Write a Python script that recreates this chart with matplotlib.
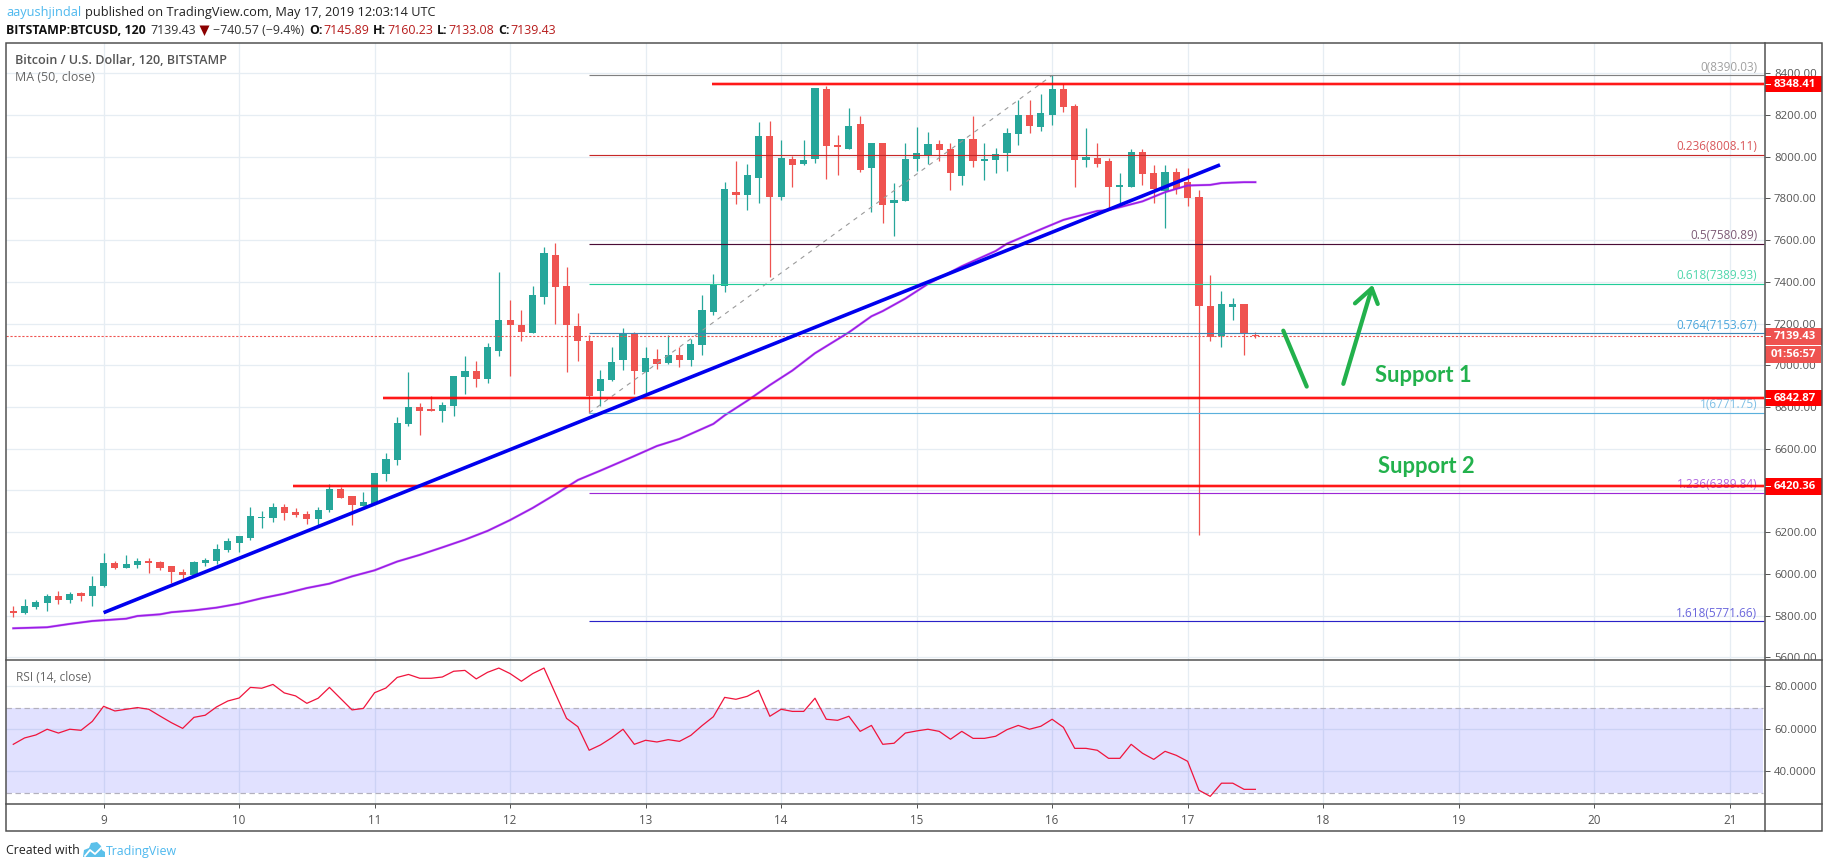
import numpy as np
import matplotlib
matplotlib.use("Agg")
import matplotlib.pyplot as plt
from matplotlib.patches import Rectangle, Polygon

plt.rcParams['font.family'] = ['Open Sans', 'DejaVu Sans']

W, H = 1828, 868
FIRST_DAY = 8 + 1 / 3
BARS_PER_DAY = 12

opens = [5822,5812,5841,5860,5894,5875,5908,5894,5942,6052,
         6028,6043,6062,6057,6038,6009,5995,6052,6062,6114,
         6148,6172,6268,6268,6321,6297,6287,6263,6306,6407,
         6373,6325,6335,6479,6546,6719,6800,6790,6781,6805,
         6944,6973,6934,7069,7217,7193,7155,7327,7529,7380,
         7188,7116,6877,6930,7026,7151,6968,7031,7012,7050,
         7026,7098,7256,7381,7831,7817,7898,8100,7807,7990,
         7966,7990,8325,8057,8037,8157,7946,8066,7779,7788,
         7990,8009,8061,8037,7908,8085,7980,7985,8018,8109,
         8200,8143,8200,8325,8244,7985,7994,7980,7855,7855,
         8023,7922,7836,7927,7879,7807,7285,7141,7280,7294,7145.89]
highs = [5846,5880,5875,5904,5920,5913,5913,5990,6100,6062,
         6091,6076,6076,6062,6038,6023,6062,6076,6143,6172,
         6182,6321,6301,6340,6335,6316,6301,6321,6431,6417,
         6373,6393,6484,6580,6752,6968,6819,6853,6824,6949,
         7045,7021,7107,7447,7313,7265,7380,7567,7586,7471,
         7251,7145,6978,7088,7179,7160,7088,7079,7146,7088,
         7127,7338,7438,7879,7980,7966,8167,8172,8081,8004,
         8081,8330,8339,8105,8234,8196,8066,8066,7874,8066,
         8143,8119,8081,8066,8085,8196,8066,8042,8138,8272,
         8272,8301,8390,8349,8253,8138,8066,7994,7922,8037,
         8037,7961,7961,7946,7946,7841,7433,7357,7323,7294,7160.23]
lows = [5795,5809,5833,5822,5857,5862,5870,5846,5937,6023,
        6028,6028,6004,6019,5956,5975,5995,6038,6047,6105,
        6105,6162,6220,6249,6258,6273,6239,6234,6297,6364,
        6234,6325,6335,6445,6522,6709,6666,6781,6728,6757,
        6862,6896,6915,7045,6949,7116,7155,7294,7198,6968,
        7021,6770,6805,6925,6978,6863,6868,6983,7007,6992,
        6997,7050,7242,7352,7774,7745,7779,7424,7793,7855,
        7961,7970,7894,7913,8037,7927,7735,7683,7620,7788,
        7932,7966,7980,7841,7865,7951,7889,7922,7932,8057,
        8114,8124,8153,8215,7855,7951,7951,7750,7769,7855,
        7865,7779,7659,7822,7764,6185,7117,7088,7218,7050,7133.08]
closes = [5812,5846,5865,5894,5875,5904,5894,5942,6052,6028,
          6047,6062,6052,6028,6009,5995,6057,6067,6119,6158,
          6182,6277,6273,6321,6292,6282,6263,6306,6407,6364,
          6330,6345,6484,6551,6723,6800,6781,6781,6810,6949,
          6973,6934,7088,7217,7193,7160,7337,7538,7375,7193,
          7116,6853,6935,7016,7151,6973,7036,7007,7050,7026,
          7103,7266,7385,7846,7817,7913,8100,7807,7994,7961,
          7985,8330,8052,8047,8148,7937,8066,7769,7793,7990,
          8018,8061,8033,7922,8085,7980,7990,8013,8114,8200,
          8148,8210,8325,8239,7985,7999,7966,7855,7865,8023,
          7918,7846,7927,7846,7803,7285,7136,7294,7294,7154,7139.43]

ma_bars = [1,4,6,8,11,12,14,15,17,19,21,23,25,27,29,31,33,35,37,39,41,43,45,47,49,
           51,53,56,58,60,63,64,66,68,70,72,75,77,78,80,82,85,88,89,92,94,96,97,98,
           101,103,105,107,108,110,111]
ma_values = [5739,5744,5760,5774,5785,5798,5806,5816,5825,5838,5857,5883,5905,5932,5953,
             5988,6017,6059,6091,6127,6164,6206,6258,6316,6381,6450,6495,6565,6613,6647,
             6719,6760,6830,6905,6975,7058,7158,7235,7260,7320,7390,7475,7548,7583,7652,
             7697,7726,7740,7744,7786,7830,7862,7865,7874,7878,7878]

rsi_values = [52.7,55.7,57.1,59.8,58.0,59.8,59.3,63.5,70.6,68.4,69.2,70.0,69.2,66.0,62.9,60.2,
              65.4,66.4,70.3,73.1,74.5,79.5,79.1,80.9,76.9,75.5,72.0,74.4,79.5,74.2,68.9,69.6,
              77.0,79.2,84.2,85.6,83.8,83.8,84.4,87.1,87.5,83.5,86.6,88.6,86.0,82.4,86.0,88.6,
              76.7,64.9,61.0,49.9,52.4,55.8,59.8,52.7,54.6,53.8,54.9,54.1,56.9,61.5,
              65.7,74.8,73.9,75.3,78.1,65.9,69.2,68.2,68.2,74.4,64.5,64.0,65.9,58.8,61.6,52.7,
              53.2,58.0,59.0,59.8,58.8,55.1,58.8,55.5,55.5,56.5,59.6,61.6,59.8,61.2,64.5,60.7,
              50.8,50.8,49.9,46.1,46.1,52.7,48.5,45.6,49.4,47.5,44.7,31.1,28.2,34.4,34.4,31.5,31.5]

fib_ratios = ["0", "0.236", "0.5", "0.618", "0.764", "1", "1.236", "1.618"]
fib_levels = [8390.03, 8008.11, 7580.89, 7389.93, 7153.67, 6771.75, 6389.84, 5771.66]
fib_colors = ["#808080", "#c62828", "#4a0d36", "#22cc99", "#3f86b5", "#5bb0dc", "#9c27d6", "#2a22c8"]
fib_label_colors = ["#a0a0a0", "#d9575a", "#7d5a75", "#4fd6ac", "#4aa6dc", "#7fc0e6", "#b066e0", "#6a66dc"]
fib_start_bar, fib_end_bar = 52, 93

resistance_levels = [8348.41, 6842.87, 6420.36]
resistance_start_days = [13.488, 11.06, 10.40]

trend_days = [9.0, 17.239]
trend_values = [5814, 7961]
arrow1_days = [17.706, 17.879]
arrow1_values = [7166, 6898]
arrow2_days = [18.149, 18.359]
arrow2_values = [6911, 7369]
head_days = [18.235, 18.359, 18.403]
head_values = [7297, 7369, 7294]

day_ticks = list(range(9, 22))
price_ticks = list(range(5600, 8600, 200))
rsi_ticks = [40, 60, 80]
last_close = 7139.43

GREEN, RED = "#26a69a", "#ef5350"
TXT = "#555555"
GRID = "#e6edf3"
FRAME = "#4f4f4f"
px = 0.72


def rect(x0, y0, x1, y1):
    return [x0 / W, 1 - y1 / H, (x1 - x0) / W, (y1 - y0) / H]


fig = plt.figure(figsize=(W / 100, H / 100), dpi=100, facecolor="white")
ax = fig.add_axes(rect(5.5, 43, 1765, 660), zorder=1)
ar = fig.add_axes(rect(5.5, 660, 1765, 804), zorder=1)
ascale = fig.add_axes(rect(1765, 43, 1821.7, 660), zorder=2)
apx = fig.add_axes([0, 0, 1, 1], zorder=3)

XMIN, XMAX = 8.276, 21.261
YMIN, YMAX = 5587, 8545.3
ax.set_xlim(XMIN, XMAX)
ax.set_ylim(YMIN, YMAX)
ar.set_xlim(XMIN, XMAX)
ar.set_ylim(24.6, 92.4)
ascale.set_xlim(0, 1)
ascale.set_ylim(YMIN, YMAX)
ascale.axis("off")
apx.set_xlim(0, W)
apx.set_ylim(H, 0)
apx.axis("off")

x = FIRST_DAY + np.arange(len(closes)) / BARS_PER_DAY
o, h, l, c = map(np.array, (opens, highs, lows, closes))
col = np.where(c >= o, GREEN, RED)
col[[22, 37]] = [GREEN, RED]

for a in (ax, ar):
    a.set_facecolor("white")
    for s in a.spines.values():
        s.set_visible(False)
    a.set_xticks(day_ticks)
    a.grid(True, color=GRID, lw=1.3 * px, zorder=0)
    a.set_axisbelow(True)
    a.yaxis.tick_right()

ax.set_yticks(price_ticks)
ax.set_yticklabels([f"{v:.2f}" for v in price_ticks])
ax.tick_params(axis="x", length=0, labelbottom=False)
ax.tick_params(axis="y", length=5 * px, width=px, color=TXT, labelcolor=TXT, labelsize=8.2, pad=4 * px)
for lab in ax.get_yticklabels():
    lab.set_clip_box(ascale.bbox)
    lab.set_clip_on(True)

# candles
ax.vlines(x, l, h, colors=col, lw=1.25 * px, zorder=2)
ax.bar(x, np.maximum(np.abs(c - o), 6), bottom=np.minimum(o, c), width=7.2 / 135.5, color=col, lw=0, zorder=3)

# last price
ax.axhline(last_close, color=RED, lw=1.1 * px, dashes=(2, 1.6), zorder=3.5)

# moving average
ma_x = FIRST_DAY + (np.array(ma_bars) - 1) / BARS_PER_DAY
ax.plot(ma_x, ma_values, color="#a020f0", lw=2.6 * px, alpha=0.35, zorder=4)
ax.plot(ma_x, ma_values, color="#9c1de7", lw=1.7 * px, zorder=4.1)

# fib
fx0 = FIRST_DAY + (fib_start_bar - 1) / BARS_PER_DAY
fx1 = FIRST_DAY + (fib_end_bar - 1) / BARS_PER_DAY
ax.plot([fx0, fx1], [fib_levels[5], fib_levels[0]], color="#9a9a9a", lw=1.1 * px, dashes=(4, 4.5), zorder=4.2)
for r, lv, cc, lc in zip(fib_ratios, fib_levels, fib_colors, fib_label_colors):
    ax.plot([fx0, XMAX - 0.01], [lv, lv], color=cc, lw=1.15 * px, zorder=4.5, solid_capstyle="butt")
    ax.annotate(f"{r}({lv:.2f})", xy=(21.203, lv), xytext=(0, 1.2), textcoords="offset points",
                ha="right", va="bottom", color=lc, fontsize=8.5, zorder=5)

# resistance lines
for lv, d0 in zip(resistance_levels, resistance_start_days):
    ax.plot([d0, XMAX - 0.01], [lv, lv], color="#ff0000", lw=3.6 * px, alpha=0.35, zorder=5, solid_capstyle="butt")
    ax.plot([d0, XMAX - 0.01], [lv, lv], color="#ff0000", lw=1.7 * px, zorder=5.1, solid_capstyle="butt")

# trend line
ax.plot(trend_days, trend_values, color="#0000ee", lw=3.6 * px, zorder=5.5, solid_capstyle="butt")

# arrows
for dd, vv in ((arrow1_days, arrow1_values), (arrow2_days, arrow2_values), (head_days, head_values)):
    ax.plot(dd, vv, color="#22b14c", lw=4.2 * px, zorder=6, solid_capstyle="round", solid_joinstyle="round")

apx.text(1375, 375.5, "Support 1", color="#22b14c", fontsize=15.8, fontweight="bold", family="Lato", va="center", ha="left")
apx.text(1378.3, 466.5, "Support 2", color="#22b14c", fontsize=15.8, fontweight="bold", family="Lato", va="center", ha="left")

# RSI pane
rx = FIRST_DAY + np.arange(len(rsi_values)) / BARS_PER_DAY
ar.axhspan(30, 70, xmax=(XMAX - 0.012 - XMIN) / (XMAX - XMIN), facecolor=(0.4, 0.4, 1.0, 0.196), lw=0, zorder=1)
for lv in (30, 70):
    ar.plot([XMIN, XMAX - 0.012], [lv, lv], color="#b2b0bd", lw=1.2 * px, dashes=(4.5, 3), zorder=1.5)
ar.plot(rx, rsi_values, color="#f0143c", lw=1.25 * px, zorder=3)
ar.set_yticks(rsi_ticks)
ar.set_yticklabels([f"{v:.4f}" for v in rsi_ticks])
ar.tick_params(axis="y", length=5 * px, width=px, color=TXT, labelcolor=TXT, labelsize=8.2, pad=4 * px)
ar.set_xticklabels([str(d) for d in day_ticks])
ar.tick_params(axis="x", length=4 * px, width=px, color=TXT, labelcolor=TXT, labelsize=8.4, pad=6 * px)

# price scale boxes
box_h = 16.7 / 0.20857
for lv, fc in ((resistance_levels[0], "#ff0000"), (last_close, RED),
               (resistance_levels[1], "#ff0000"), (resistance_levels[2], "#ff0000")):
    ascale.add_patch(Rectangle((0.005, lv - box_h / 2), 0.995, box_h, facecolor=fc, lw=0, zorder=3))
    ascale.plot([0.005, 0.09], [lv, lv], color="white", lw=px, zorder=4)
    ascale.text(0.52, lv, f"{lv:.2f}", color="white", fontsize=8.2, fontweight="bold", ha="center", va="center", zorder=5)

apx.add_patch(Rectangle((1765.3, 346), 56, 16.8, facecolor=RED, lw=0, zorder=3))
apx.text(1793.5, 354.2, "01:56:57", color="white", fontsize=8.2, fontweight="bold", ha="center", va="center", zorder=5)

# frame
apx.add_patch(Rectangle((5.5, 43), 1816.2, 788, fill=False, edgecolor=FRAME, lw=1.5 * px, zorder=6))
apx.plot([5.5, 1821.7], [660, 660], color=FRAME, lw=1.5 * px, zorder=6)
apx.plot([5.5, 1821.7], [804, 804], color=FRAME, lw=1.5 * px, zorder=6)
apx.plot([1765, 1765], [43, 831], color=FRAME, lw=1.5 * px, zorder=6)

# header
BLUE = "#4db8ee"
DK = "#b71c1c"
fh = 8.9
apx.text(6, 12.5, "aayushjindal", color=BLUE, fontsize=9.2, va="center")
apx.text(85, 12.5, "published on TradingView.com, May 17, 2019 12:03:14 UTC", color="#222222", fontsize=9.2, va="center")
apx.text(6, 30, "BITSTAMP:BTCUSD, 120", color="#111111", fontsize=fh, fontweight="bold", va="center")
apx.text(150, 30, "7139.43", color="#333333", fontsize=fh, va="center")
apx.add_patch(Polygon([[199.5, 25.5], [209.5, 25.5], [204.5, 36]], closed=True, facecolor="#8b0000", lw=0))
apx.text(213, 30, "\u2212740.57 (\u22129.4%)", color="#333333", fontsize=fh, va="center")
for xl, lab, xv, val in ((309, "O:", 323.5, "7145.89"), (373, "H:", 387.5, "7160.23"),
                         (437, "L:", 448.5, "7133.08"), (498, "C:", 510.5, "7139.43")):
    apx.text(xl, 30, lab, color="#111111", fontsize=fh, fontweight="bold", va="center")
    apx.text(xv, 30, val, color=DK, fontsize=fh, va="center")

# pane legends
apx.text(15, 60, "Bitcoin / U.S. Dollar, 120, BITSTAMP", color=TXT, fontsize=9.1, fontweight="semibold", va="center")
apx.text(15, 77.5, "MA (50, close)", color="#666666", fontsize=8.9, va="center")
apx.text(15.5, 677.5, "RSI (14, close)", color="#666666", fontsize=8.6, va="center")

# footer
apx.text(6, 851, "Created with", color="#222222", fontsize=fh, va="center")
apx.text(106, 851, "TradingView", color=BLUE, fontsize=fh, va="center")
apx.add_patch(Polygon([[83, 857], [84, 850], [89, 848], [91, 843], [97, 842], [101, 846], [102, 850],
                       [105, 852], [105, 857]], closed=True, facecolor="#5bc0ea", lw=0))
apx.plot([85, 90, 95, 101], [856, 850, 854, 848], color="white", lw=1.3)

fig.savefig("out.png", dpi=100, facecolor="white")
